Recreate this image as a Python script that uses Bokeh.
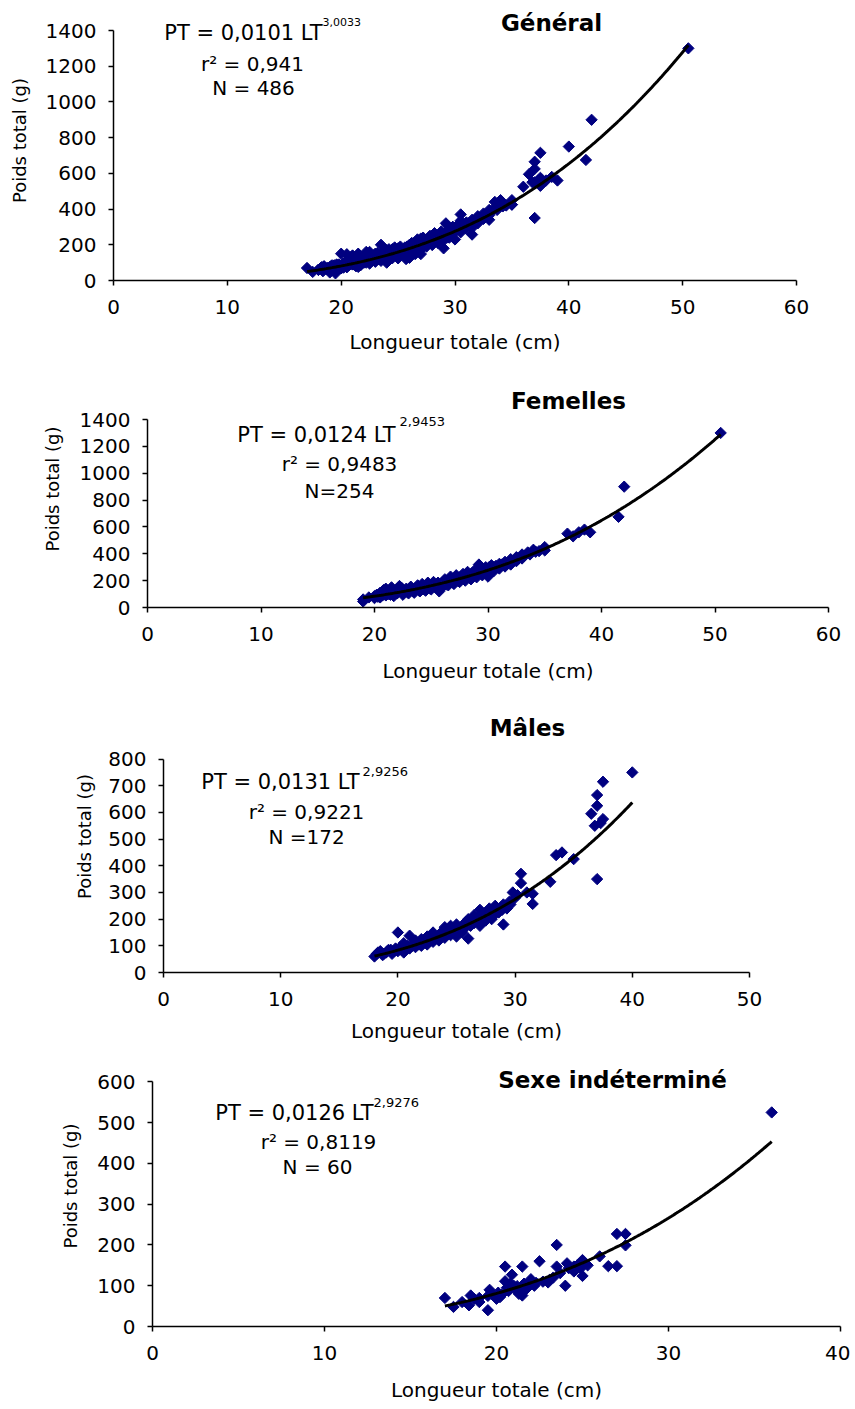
import numpy as np
from bokeh.plotting import figure
from bokeh.models import Range1d, Label, FixedTicker
from bokeh.embed import file_html
from bokeh.resources import INLINE

# ---------------- data ----------------
fem_lt = [19.0, 19.0, 19.5, 20.0, 20.0, 20.2, 20.5, 20.5, 20.7, 20.8, 21.0, 21.0, 21.2, 21.3,
          21.5, 21.5, 21.7, 22.0, 22.0, 22.2, 22.3, 22.5, 22.5, 22.8, 23.0, 23.0, 23.2, 23.5,
          23.5, 23.8, 24.0, 24.0, 24.2, 24.3, 24.5, 24.5, 24.7, 25.0, 25.0, 25.2, 25.3, 25.5,
          25.5, 25.7, 26.0, 26.0, 26.2, 26.3, 26.5, 26.5, 26.7, 27.0, 27.0, 27.2, 27.3, 27.5,
          27.5, 27.8, 28.0, 28.0, 28.2, 28.3, 28.5, 28.5, 28.8, 29.0, 29.0, 29.2, 29.5, 29.5,
          29.8, 30.0, 30.0, 30.3, 30.5, 30.5, 31.0, 31.0, 31.5, 31.5, 32.0, 32.0, 32.5, 32.5,
          33.0, 33.0, 33.5, 34.0, 34.5, 35.0, 35.0, 37.0, 37.5, 38.0, 38.5, 39.0, 41.5, 42.0,
          50.5,
          20.3, 20.6, 20.9, 21.1, 21.4, 21.6, 21.9, 22.1, 22.4, 22.6, 22.9, 23.1, 23.4, 23.6,
          23.9, 24.1, 24.4, 24.6, 24.9, 25.1, 25.4, 25.6, 25.9, 26.1, 26.4, 26.6, 26.9, 27.1,
          27.4, 27.6, 27.9, 28.1, 28.4, 28.6, 28.9, 29.1, 29.4, 29.6, 29.9, 30.1, 30.4, 30.7,
          30.9, 31.2, 31.7, 32.2, 32.7, 33.2, 33.7, 34.2]
fem_pt = [60, 45, 75, 70, 85, 95, 110, 75, 90, 130, 90, 140, 100, 115,
          120, 150, 85, 105, 135, 160, 120, 115, 95, 140, 125, 105, 155, 130,
          110, 165, 140, 120, 175, 135, 150, 125, 185, 160, 135, 190, 155, 170,
          145, 120, 180, 155, 210, 170, 190, 165, 230, 205, 175, 240, 200, 215,
          190, 250, 225, 200, 265, 230, 240, 210, 275, 255, 225, 320, 270, 240,
          300, 285, 230, 315, 300, 270, 325, 290, 340, 305, 360, 320, 375, 345,
          395, 365, 410, 430, 420, 450, 425, 550, 530, 560, 580, 560, 675, 900,
          1300,
          80, 100, 115, 125, 95, 130, 110, 125, 145, 125, 115, 140, 120, 145,
          130, 155, 145, 165, 140, 175, 160, 185, 165, 195, 180, 200, 190, 220,
          210, 230, 215, 245, 225, 255, 240, 265, 250, 285, 265, 300, 285, 310,
          305, 320, 325, 345, 365, 385, 395, 415]

mal_lt = [18.0, 18.2, 18.5, 18.7, 19.0, 19.2, 19.5, 19.8, 20.0, 20.0, 20.2, 20.5, 20.5, 20.8,
          21.0, 21.0, 21.3, 21.5, 21.5, 21.8, 22.0, 22.0, 22.3, 22.5, 22.5, 22.8, 23.0, 23.0,
          23.3, 23.5, 23.5, 23.8, 24.0, 24.0, 24.3, 24.5, 24.5, 24.8, 25.0, 25.0, 25.3, 25.5,
          25.5, 25.8, 26.0, 26.0, 26.2, 26.5, 26.5, 26.8, 27.0, 27.0, 27.3, 27.5, 27.5, 27.8,
          28.0, 28.0, 28.3, 28.5, 28.8, 29.0, 29.0, 29.3, 29.5, 29.8, 30.0, 30.5, 30.5, 31.0,
          31.5, 31.5, 33.0, 33.5, 34.0, 35.0, 36.5, 36.8, 37.0, 37.0, 37.0, 37.3, 37.5, 37.5,
          40.0,
          18.3, 18.8, 19.1, 19.4, 19.7, 20.3, 20.6, 20.9, 21.2, 21.6, 21.9, 22.2, 22.6, 22.9,
          23.2, 23.6, 23.9, 24.2, 24.6, 24.9, 25.2, 25.6, 25.9, 26.3, 26.6, 26.9, 27.2, 27.6,
          27.9, 28.2, 28.6, 28.9, 29.2, 29.6, 30.2]
mal_pt = [60, 70, 80, 65, 75, 85, 70, 90, 150, 80, 95, 110, 75, 100,
          138, 90, 110, 120, 95, 105, 125, 100, 115, 135, 105, 120, 150, 115,
          130, 140, 120, 155, 170, 130, 145, 175, 140, 160, 180, 135, 165, 175,
          150, 190, 127, 200, 175, 215, 185, 195, 235, 175, 210, 225, 195, 240,
          220, 200, 250, 235, 245, 180, 255, 240, 265, 300, 280, 370, 335, 300,
          295, 257, 340, 440, 450, 425, 595, 550, 665, 625, 350, 560, 715, 575,
          750,
          75, 70, 80, 85, 80, 85, 90, 95, 100, 105, 115, 110, 120, 130,
          125, 135, 140, 150, 155, 165, 150, 165, 175, 190, 200, 210, 195, 215,
          225, 215, 225, 235, 250, 255, 290]

ind_lt = [17.0, 17.5, 18.0, 18.4, 18.5, 18.7, 19.0, 19.0, 19.5, 19.5, 19.6, 19.8, 20.0, 20.1,
          20.2, 20.3, 20.5, 20.5, 20.6, 20.7, 20.8, 20.9, 21.0, 21.1, 21.2, 21.3, 21.4, 21.5,
          21.5, 21.6, 21.7, 21.8, 22.0, 22.2, 22.3, 22.5, 22.7, 23.0, 23.1, 23.3, 23.5, 23.5,
          23.7, 24.0, 24.1, 24.2, 24.5, 24.5, 24.7, 24.9, 25.0, 25.0, 25.3, 26.0, 26.5, 27.0,
          27.0, 27.5, 27.5, 36.0]
ind_pt = [70, 48, 60, 52, 76, 68, 70, 60, 40, 75, 90, 78, 68, 83,
          72, 78, 147, 111, 95, 87, 105, 127, 100, 91, 99, 80, 83, 147,
          76, 105, 91, 95, 116, 100, 107, 160, 110, 108, 115, 120, 200, 147,
          131, 100, 155, 143, 147, 135, 150, 143, 163, 124, 150, 172, 148, 148,
          227, 227, 199, 525]

# the general sample is the union of the three groups (254 + 172 + 60 = 486)
gen_lt = fem_lt + mal_lt + ind_lt
gen_pt = fem_pt + mal_pt + ind_pt

titles = ["Général", "Femelles", "Mâles", "Sexe indéterminé"]
fit_a = [0.0101, 0.0124, 0.0131, 0.0126]
fit_b = [3.0033, 2.9453, 2.9256, 2.9276]
eq_main = ["PT = 0,0101 LT", "PT = 0,0124 LT", "PT = 0,0131 LT", "PT = 0,0126 LT"]
eq_exp = ["3,0033", "2,9453", "2,9256", "2,9276"]
r2_text = ["r² = 0,941", "r² = 0,9483", "r² = 0,9221", "r² = 0,8119"]
n_text = ["N = 486", "N=254", "N =172", "N = 60"]
x_max = [60, 60, 50, 40]
y_max = [1400, 1400, 800, 600]
y_step = [200, 200, 100, 100]
x_label = "Longueur totale (cm)"
y_label = "Poids total (g)"

series = [(gen_lt, gen_pt), (fem_lt, fem_pt), (mal_lt, mal_pt), (ind_lt, ind_pt)]

# ---------------- layout (screen pixels, page origin at 0,0) ----------------
FONT = "DejaVu Sans"
W = 850
lay = [
    dict(L=113, R=796, T=30, B=280, top=0, h=370, ylab_s=13, xlab_s=13,
         eq_end=322, eq_base=32, ex_x=322, ex_base=21, ex_size=11,
         r2_x=252, r2_base=63, n_x=253, n_base=87, t_x=551, t_y=22),
    dict(L=147, R=828, T=419, B=607, top=370, h=330, ylab_s=14, xlab_s=15,
         eq_end=395, eq_base=434, ex_x=399, ex_base=421, ex_size=13,
         r2_x=339, r2_base=463, n_x=339, n_base=490, t_x=568, t_y=400),
    dict(L=163, R=749, T=759, B=974, top=700, h=345, ylab_s=10, xlab_s=10,
         eq_end=359, eq_base=782, ex_x=362, ex_base=772, ex_size=13,
         r2_x=306, r2_base=812, n_x=306, n_base=838, t_x=527, t_y=728),
    dict(L=152, R=840, T=1082, B=1331, top=1045, h=359, ylab_s=13, xlab_s=15,
         eq_end=373, eq_base=1114, ex_x=373, ex_base=1103, ex_size=13,
         r2_x=318, r2_base=1143, n_x=317, n_base=1169, t_x=612, t_y=1080),
]

figs = []
for i in range(4):
    c = lay[i]
    xm, ym = x_max[i], y_max[i]
    # the frame runs up to the top of the figure so that titles/equations are not clipped;
    # the visible y axis is bounded to [0, ym]
    y_top = ym * (c["B"] - c["top"]) / (c["B"] - c["T"])

    def dx(px, c=c, xm=xm):
        return (px - c["L"]) / (c["R"] - c["L"]) * xm

    def dy(py, c=c, ym=ym):
        return (c["B"] - py) / (c["B"] - c["T"]) * ym

    p = figure(width=W, height=c["h"], output_backend="svg", toolbar_location=None,
               x_range=Range1d(0, xm), y_range=Range1d(0, y_top),
               min_border_left=c["L"], min_border_right=W - c["R"],
               min_border_top=0, min_border_bottom=c["top"] + c["h"] - c["B"])
    p.outline_line_color = None
    p.xgrid.grid_line_color = None
    p.ygrid.grid_line_color = None
    p.background_fill_color = "white"
    p.border_fill_color = "white"

    p.xaxis.ticker = FixedTicker(ticks=list(range(0, xm + 1, 10)))
    p.yaxis.ticker = FixedTicker(ticks=list(range(0, ym + 1, y_step[i])))
    p.yaxis.bounds = (0, ym)
    for ax in (p.xaxis, p.yaxis):
        ax.axis_line_color = "black"
        ax.axis_line_width = 1.5
        ax.major_tick_line_color = "black"
        ax.major_tick_line_width = 1.5
        ax.major_tick_in = 0
        ax.major_tick_out = 5
        ax.minor_tick_line_color = None
        ax.major_label_text_font = FONT
        ax.major_label_text_font_size = "20px"
        ax.major_label_text_color = "black"
        ax.axis_label_text_font = FONT
        ax.axis_label_text_font_style = "normal"
        ax.axis_label_text_color = "black"
    p.xaxis.axis_label = x_label
    p.xaxis.axis_label_text_font_size = "20px"
    p.xaxis.major_label_standoff = 14
    p.xaxis.axis_label_standoff = c["xlab_s"]
    p.yaxis.axis_label = y_label
    p.yaxis.axis_label_text_font_size = "18px"
    p.yaxis.major_label_standoff = 12
    p.yaxis.axis_label_standoff = c["ylab_s"]

    lt, pt = series[i]
    p.scatter(lt, pt, marker="square", angle=np.pi / 4, size=8,
              fill_color="#000080", line_color="#000080")
    xs = np.linspace(min(lt), max(lt), 200)
    p.line(xs, fit_a[i] * xs ** fit_b[i], line_color="black", line_width=3)

    def lab(text, px, py, size, align, baseline="alphabetic", style="normal"):
        p.add_layout(Label(x=dx(px), y=dy(py), text=text, text_font=FONT,
                           text_font_size=size, text_align=align, text_baseline=baseline,
                           text_font_style=style, text_color="black"))

    lab(titles[i], c["t_x"], c["t_y"], "23px", "center", "middle", "bold")
    lab(eq_main[i], c["eq_end"], c["eq_base"], "21px", "right")
    lab(eq_exp[i], c["ex_x"], c["ex_base"], "%dpx" % c["ex_size"], "left")
    lab(r2_text[i], c["r2_x"], c["r2_base"], "20px", "center")
    lab(n_text[i], c["n_x"], c["n_base"], "20px", "center")
    figs.append(p)

# four independent roots stacked on the page (no frame alignment between panels)
open("out.html", "w").write(file_html(figs, INLINE))
